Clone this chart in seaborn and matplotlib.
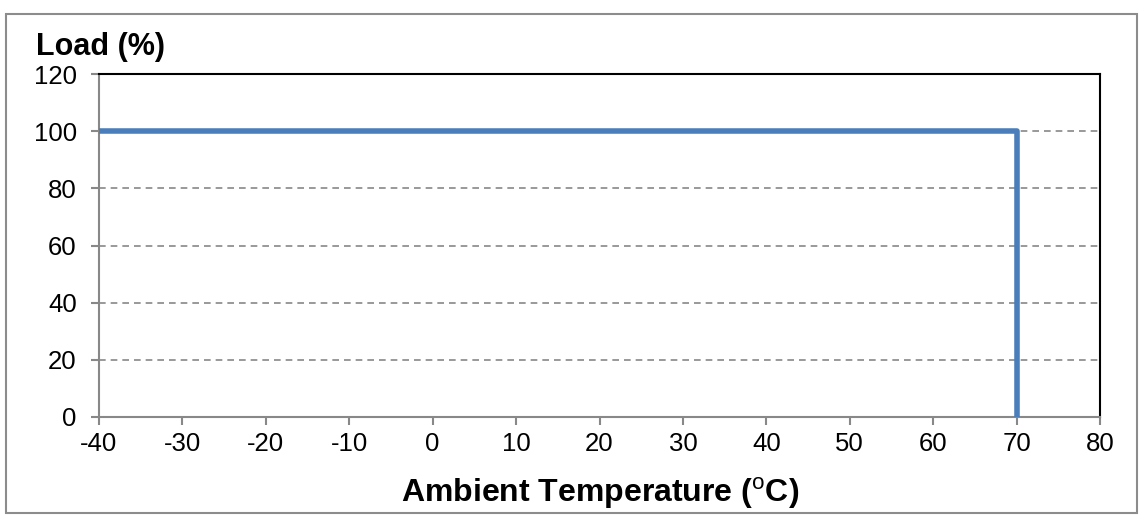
import numpy as np
import matplotlib
matplotlib.use("Agg")
import matplotlib.pyplot as plt
import pandas as pd
import seaborn as sns
from matplotlib.patches import Rectangle

# derating curve
temperature = [-40, 70, 70]
load = [100, 100, 0]
x_ticks = [-40, -30, -20, -10, 0, 10, 20, 30, 40, 50, 60, 70, 80]
y_ticks = [0, 20, 40, 60, 80, 100, 120]

sns.set_style("white")
plt.rcParams['font.family'] = ['Liberation Sans', 'DejaVu Sans']
plt.rcParams['mathtext.fontset'] = 'custom'
plt.rcParams['mathtext.rm'] = 'Liberation Sans'
plt.rcParams['mathtext.bf'] = 'Liberation Sans:bold'
plt.rcParams['text.color'] = 'black'
plt.rcParams['xtick.color'] = 'black'
plt.rcParams['ytick.color'] = 'black'

df = pd.DataFrame({'temperature': temperature, 'load': load})

fig = plt.figure(figsize=(11.48, 5.25), dpi=100)
ax = fig.add_axes([99 / 1148, 1 - 417 / 525, 1001 / 1148, 343 / 525])

sns.lineplot(data=df, x='temperature', y='load', sort=False, estimator=None,
             errorbar=None, ax=ax, color='#4A7EBB', linewidth=4, zorder=3)

ax.set_xlim(-40, 80)
ax.set_ylim(0, 120)
ax.set_xticks(x_ticks)
ax.set_yticks(y_ticks)
ax.set_xticklabels([str(t) for t in x_ticks])
ax.set_yticklabels([str(t) for t in y_ticks])
ax.tick_params(axis='both', direction='out', length=6, width=1.5, color='#888888',
               labelcolor='black', labelsize=18.5, bottom=True, left=True)
ax.tick_params(axis='y', pad=10)
ax.tick_params(axis='x', pad=5)
ax.set_xlabel('')
ax.set_ylabel('')

for y in y_ticks[1:-1]:
    ax.axhline(y, color='#888888', linestyle=(0, (4, 3)), linewidth=1.2, zorder=1)

ax.spines['left'].set_color('#888888')
ax.spines['bottom'].set_color('#888888')
ax.spines['top'].set_color('black')
ax.spines['right'].set_color('black')
for s in ax.spines.values():
    s.set_linewidth(1.5)
    s.set_visible(True)

fig.text(36 / 1148, 1 - 55 / 525, 'Load (%)', fontsize=22, fontweight='bold',
         ha='left', va='baseline', color='black')
fig.text(600 / 1148, 1 - 502 / 525, r'Ambient Temperature ($^{\mathrm{o}}$C)',
         fontsize=23, fontweight='bold', ha='center', va='baseline', color='black')

# outer frame
fig.patches.append(Rectangle((6 / 1148, 1 - 513 / 525), 1131 / 1148, 499 / 525,
                             transform=fig.transFigure, fill=False,
                             edgecolor='#8c8c8c', linewidth=1.5))

fig.savefig('out.png', dpi=100)
